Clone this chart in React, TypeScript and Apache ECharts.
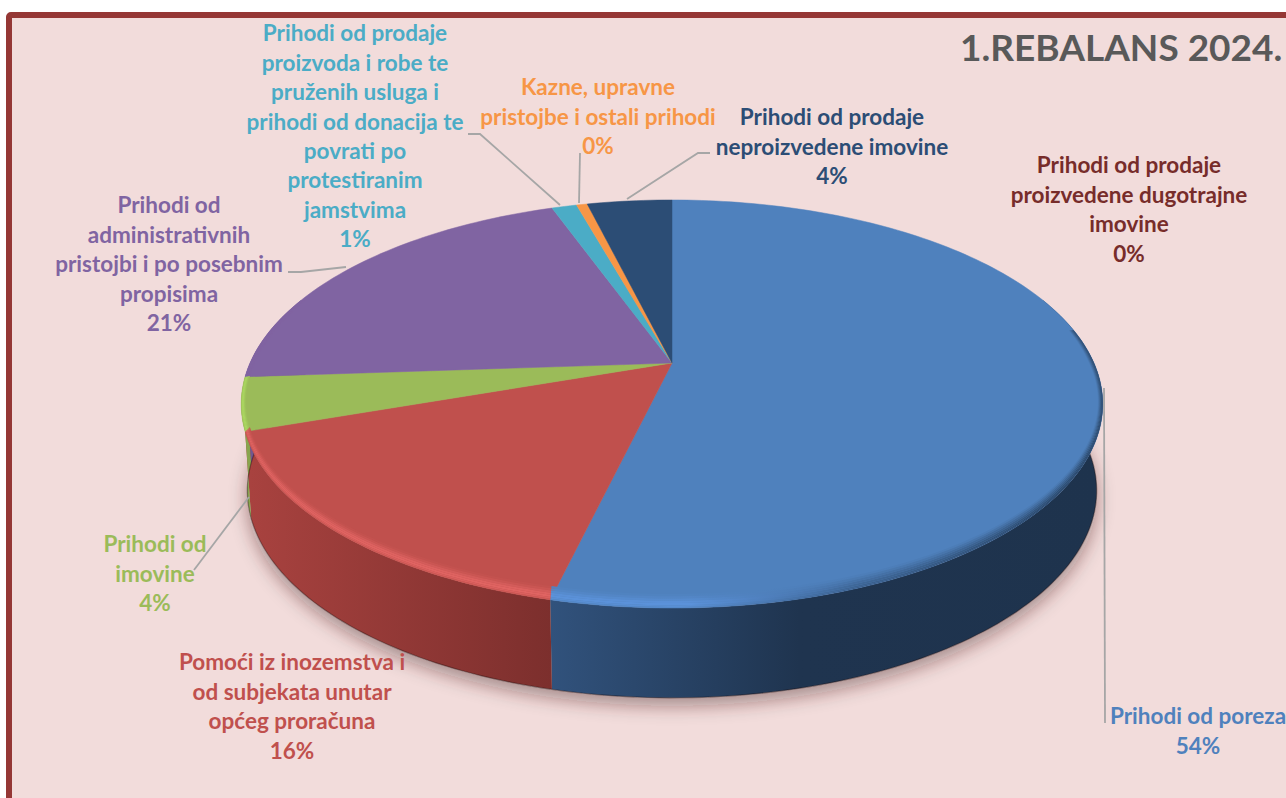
import React, { useEffect, useRef } from "react";
import * as echarts from "echarts";

const categories = [
  "Prihodi od poreza",
  "Pomoći iz inozemstva i\nod subjekata unutar\nopćeg proračuna",
  "Prihodi od\nimovine",
  "Prihodi od\nadministrativnih\npristojbi i po posebnim\npropisima",
  "Prihodi od prodaje\nproizvoda i robe te\npruženih usluga i\nprihodi od donacija te\npovrati po\nprotestiranim\njamstvima",
  "Kazne, upravne\npristojbe i ostali prihodi",
  "Prihodi od prodaje\nneproizvedene imovine",
  "Prihodi od prodaje\nproizvedene dugotrajne\nimovine",
];
const shares = [53.73, 15.97, 4.2, 20.61, 1.14, 0.49, 3.86, 0.0];
const percentLabels = ["54%", "16%", "4%", "21%", "1%", "0%", "4%", "0%"];
const titleText = "1.REBALANS 2024.";

const topColors = ["#4F81BD", "#C0504D", "#9BBB59", "#8064A2", "#4BACC6", "#F79646", "#2C4D75", "#772C2A"];
const labelColors = ["#4F81BD", "#C0504D", "#9BBB59", "#8064A2", "#4BACC6", "#F79646", "#2C4D75", "#772C2A"];
const bevelColors = ["#5B92DA", "#E06462", "#AEDC62", "#8064A2", "#4BACC6", "#F79646", "#2C4D75", "#772C2A"];

const FONT = "Lato, Carlito, 'Noto Sans', sans-serif";
const LINE = 29.4;
const labelPos: [number, number][] = [
  [1198, 716], [292, 662], [155, 544], [169, 205], [355, 33], [598, 87], [832, 117], [1129, 165],
];
const leaders: number[][][] = [
  [[1104, 388], [1105, 723]],
  [[249, 497], [194, 570]],
  [[288, 272], [301, 272], [346, 267]],
  [[468, 134], [480, 134], [560, 205]],
  [[580, 153], [579, 203]],
  [[710, 153], [698, 153], [627, 199]],
];

// Perspective plane: unit circle to screen.
const K = 0.201;
const TOP = { cx: 672, cy: 363, a: 195.8, b: 422 };
const BOT = { cx: 672, cy: 449, a: 198.8, b: 416 };
const TAU = Math.PI * 2;
const WALL_FROM = (70 / 360) * TAU;
const WALL_TO = (290 / 360) * TAU;
const BEVEL_FROM = (80 / 360) * TAU;
const STEP = TAU / 300;

const total = shares.reduce((s, v) => s + v, 0);
const starts: number[] = [];
shares.reduce((acc, v, i) => {
  starts[i] = acc;
  return acc + v;
}, 0);

const ang = (s: number) => (s / total) * TAU;
const proj = (p: typeof TOP, th: number): number[] => {
  const u = Math.sin(th);
  const v = -Math.cos(th);
  const w = 1 - K * v;
  return [p.cx + (p.b * u) / w, p.cy + (p.a * v) / w];
};
const arc = (p: typeof TOP, a: number, b: number) => {
  const out: number[][] = [];
  const n = Math.max(1, Math.ceil((b - a) / STEP));
  for (let i = 0; i <= n; i++) out.push(proj(p, a + ((b - a) * i) / n));
  return out;
};
const inset = (th: number, t: number) => {
  const q = proj(TOP, th);
  const u = Math.sin(th);
  const v = -Math.cos(th);
  return [q[0] - 5 * t * u, q[1] - 14 * t * Math.max(0, v)];
};
const insetArc = (a: number, b: number, t: number) => {
  const out: number[][] = [];
  const n = Math.max(1, Math.ceil((b - a) / STEP));
  for (let i = 0; i <= n; i++) out.push(inset(a + ((b - a) * i) / n, t));
  return out;
};
const hx = (c: string) => [1, 3, 5].map((i) => parseInt(c.slice(i, i + 2), 16));
const mix = (c1: string, c2: string, t: number) => {
  const a = hx(c1);
  const b = hx(c2);
  return `rgb(${a.map((x, i) => Math.round(x + (b[i] - x) * t)).join(",")})`;
};
const sideFill = (i: number) => {
  if (i === 0)
    return {
      type: "linear", x: 551, y: 0, x2: 1103, y2: 0, global: true,
      colorStops: [
        { offset: 0, color: "#31527C" },
        { offset: 0.45, color: "#1F344F" },
        { offset: 1, color: "#1E334D" },
      ],
    };
  if (i === 1)
    return {
      type: "linear", x: 250, y: 0, x2: 552, y2: 0, global: true,
      colorStops: [
        { offset: 0, color: "#A8423F" },
        { offset: 1, color: "#7C2F2D" },
      ],
    };
  return mix(topColors[i], "#000000", 0.12);
};
const bevelFill = (i: number, strength: number, t: number) => {
  const hi = mix(topColors[i], bevelColors[i], strength);
  if (i === 0)
    return {
      type: "linear", x: 551, y: 0, x2: 1103, y2: 0, global: true,
      colorStops: [
        { offset: 0, color: hi },
        { offset: 0.25, color: hi },
        { offset: 0.55, color: mix("#4F81BD", "#1E334D", (1 - t) * 0.45) },
        { offset: 1, color: mix("#4F81BD", "#1E334D", (1 - t) * 0.95) },
      ],
    };
  return hi;
};

function wallItem(params: any) {
  const i = params.dataIndex;
  const a = Math.max(ang(starts[i]), WALL_FROM);
  const b = Math.min(ang(starts[i] + shares[i]), WALL_TO);
  if (!(b > a)) return { type: "group", children: [] };
  const pts = arc(TOP, a, b).concat(arc(BOT, a, b).reverse());
  return {
    type: "group",
    children: [
      { type: "polygon", shape: { points: pts }, style: { fill: sideFill(i) as any, stroke: "none" } },
      {
        type: "polyline",
        shape: { points: arc(BOT, a, b) },
        style: { fill: "none", stroke: "rgba(30,10,10,0.4)", lineWidth: 1.2 },
      },
    ],
  };
}

function topItem(params: any) {
  const i = params.dataIndex;
  if (shares[i] <= 0) return { type: "group", children: [] };
  const a = ang(starts[i]);
  const b = ang(starts[i] + shares[i]);
  const pts = [[TOP.cx, TOP.cy]].concat(arc(TOP, a, b));
  return {
    type: "polygon",
    shape: { points: pts },
    style: { fill: topColors[i], stroke: topColors[i], lineWidth: 0.5 },
  };
}

// inset from, inset to, highlight strength (0 = outer edge, 1 = inner edge)
const BANDS: [number, number, number][] = [
  [1.0, 0.84, 0.1],
  [0.84, 0.68, 0.3],
  [0.68, 0.52, 0.6],
  [0.52, 0.36, 0.9],
  [0.36, 0.2, 1.0],
  [0.2, 0.08, 0.8],
  [0.08, 0.0, 0.45],
];
function bevelItem(params: any) {
  const i = params.dataIndex;
  const a = Math.max(ang(starts[i]), BEVEL_FROM);
  const b = Math.min(ang(starts[i] + shares[i]), WALL_TO);
  if (!(b > a)) return { type: "group", children: [] };
  return {
    type: "group",
    children: BANDS.map(([t0, t1, s]) => ({
      type: "polygon",
      shape: { points: insetArc(a, b, t1).concat(insetArc(a, b, t0).reverse()) },
      style: { fill: bevelFill(i, s, (t0 + t1) / 2) as any, stroke: "none" },
    })),
  };
}

function shadowItem() {
  return {
    type: "polygon",
    shape: { points: arc(BOT, 0, TAU) },
    style: {
      fill: "#cdb9b8",
      shadowBlur: 18,
      shadowOffsetX: 0,
      shadowOffsetY: 8,
      shadowColor: "rgba(60,30,30,0.42)",
    },
  };
}

export default function App() {
  const ref = useRef<HTMLDivElement>(null);
  useEffect(() => {
    document.body.style.margin = "0";
    const chart = echarts.init(ref.current!, undefined, { renderer: "svg" });
    const base = { type: "custom", coordinateSystem: "none", silent: true, data: shares };
    chart.setOption({
      animation: false,
      backgroundColor: "#FFFFFF",
      title: {
        text: titleText,
        left: 955,
        top: 23,
        textStyle: { color: "#595959", fontFamily: FONT, fontWeight: "bold", fontSize: 37 },
      },
      graphic: [
        {
          type: "rect",
          z: -10,
          silent: true,
          shape: { x: 9, y: 15, width: 1400, height: 900, r: 2 },
          style: { fill: "#F2DCDB", stroke: "#953735", lineWidth: 6 },
        },
        ...leaders.map((points) => ({
          type: "polyline",
          z: 20,
          silent: true,
          shape: { points },
          style: { fill: "none", stroke: "#A6A6A6", lineWidth: 1.8 },
        })),
        ...categories.map((c, i) => ({
          type: "text",
          z: 30,
          silent: true,
          x: labelPos[i][0],
          y: labelPos[i][1] - LINE / 2,
          style: {
            text: c + "\n" + percentLabels[i],
            fill: labelColors[i],
            font: `bold 22.5px ${FONT}`,
            lineHeight: LINE,
            align: "center",
            verticalAlign: "top",
          },
        })),
      ],
      series: [
        { ...base, name: "shadow", z: 1, data: [0], renderItem: shadowItem },
        { ...base, name: "walls", z: 2, renderItem: wallItem },
        { ...base, name: "tops", z: 3, renderItem: topItem },
        { ...base, name: "bevel", z: 4, renderItem: bevelItem },
      ],
    });
    return () => chart.dispose();
  }, []);
  return <div ref={ref} style={{ width: 1286, height: 798 }} />;
}
